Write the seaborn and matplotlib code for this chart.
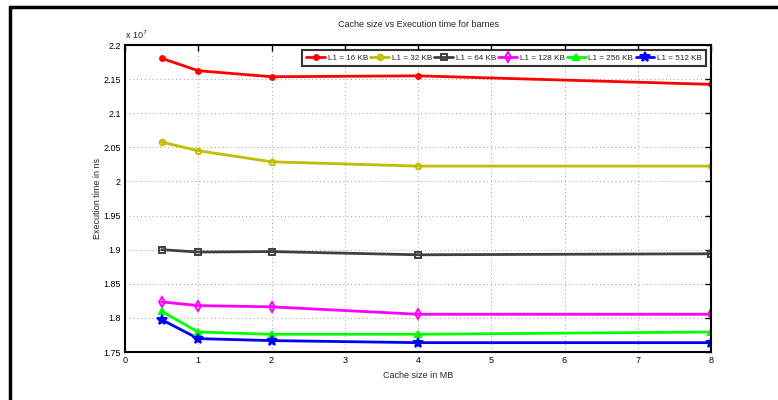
import numpy as np
import pandas as pd
import matplotlib
matplotlib.use("Agg")
import matplotlib.pyplot as plt
import seaborn as sns
from matplotlib.ticker import FuncFormatter
from matplotlib.lines import Line2D

# L2 cache sizes (MB)
cache_mb = [0.5, 1, 2, 4, 8]

# Execution time (ns) for each L1 size
l1_16kb = [2.1805e7, 2.1623e7, 2.1535e7, 2.1548e7, 2.1423e7]
l1_32kb = [2.0577e7, 2.0450e7, 2.0288e7, 2.0225e7, 2.0225e7]
l1_64kb = [1.9000e7, 1.8965e7, 1.8972e7, 1.8925e7, 1.8940e7]
l1_128kb = [1.8234e7, 1.8180e7, 1.8162e7, 1.8053e7, 1.8053e7]
l1_256kb = [1.8097e7, 1.7793e7, 1.7760e7, 1.7760e7, 1.7793e7]
l1_512kb = [1.7974e7, 1.7696e7, 1.7667e7, 1.7637e7, 1.7637e7]

series_names = ["L1 = 16 KB", "L1 = 32 KB", "L1 = 64 KB",
                "L1 = 128 KB", "L1 = 256 KB", "L1 = 512 KB"]
series_values = [l1_16kb, l1_32kb, l1_64kb, l1_128kb, l1_256kb, l1_512kb]

y_ticks = [1.75e7, 1.8e7, 1.85e7, 1.9e7, 1.95e7, 2.0e7, 2.05e7, 2.1e7, 2.15e7, 2.2e7]
x_ticks = [0, 1, 2, 3, 4, 5, 6, 7, 8]

df = pd.DataFrame({
    "cache": np.tile(cache_mb, len(series_names)),
    "time": np.concatenate(series_values),
    "series": np.repeat(series_names, len(cache_mb)),
})

colors = ["#FF0000", "#BFBF00", "#404040", "#FF00FF", "#00FF00", "#0000FF"]
markers = ["o", "o", "s", "d", "^", "*"]
msizes = [3.5, 4, 4, 5, 5, 7]
mfaces = ["#FF0000", "none", "none", "none", "#00FF00", "#0000FF"]

sns.set_style("white")
plt.rcParams["font.family"] = ["Liberation Sans Narrow", "Liberation Sans", "DejaVu Sans"]

fig = plt.figure(figsize=(7.78, 4.0), dpi=100)
ax = fig.add_axes([125 / 778, 1 - 352 / 400, (711 - 125) / 778, (352 - 45) / 400])

palette = dict(zip(series_names, colors))
sns.lineplot(data=df, x="cache", y="time", hue="series", palette=palette,
             linewidth=2, legend=False, ax=ax, sort=False)

# overlay markers per series with MATLAB-like styles
for name, vals, c, m, ms, mf in zip(series_names, series_values, colors, markers, msizes, mfaces):
    ax.plot(cache_mb, vals, linestyle="none", marker=m, markersize=ms,
            markerfacecolor=mf, markeredgecolor=c, markeredgewidth=1.4)

ax.set_xlim(0, 8)
ax.set_ylim(1.75e7, 2.2e7)
ax.set_xticks(x_ticks)
ax.set_yticks(y_ticks)
ax.yaxis.set_major_formatter(FuncFormatter(lambda v, p: f"{v / 1e7:g}"))

ax.grid(True, linestyle=(0, (1, 3)), color="#9a9a9a", linewidth=0.7)
ax.tick_params(direction="in", length=4, width=1, top=True, right=True,
               labelsize=6.5, colors="black", pad=3)
for s in ax.spines.values():
    s.set_visible(True)
    s.set_color("black")
    s.set_linewidth(1.5)

ax.set_xlabel("Cache size in MB", fontsize=6.5, labelpad=4)
ax.set_ylabel("Execution time in ns", fontsize=6.5, labelpad=1)
ax.set_title("Cache size vs Execution time for barnes", fontsize=6.5, pad=13)
ax.text(0.0, 1.012, r"x 10$^7$", transform=ax.transAxes, fontsize=6.5,
        ha="left", va="bottom")

handles = [Line2D([0], [0], color=c, linewidth=2, marker=m, markersize=ms,
                  markerfacecolor=mf, markeredgecolor=c, markeredgewidth=1.4)
           for c, m, ms, mf in zip(colors, markers, msizes, mfaces)]
leg = ax.legend(handles, series_names, ncol=6, loc="upper right",
                bbox_to_anchor=(0.992, 0.985), fontsize=5.9, frameon=True,
                fancybox=False, edgecolor="black", handlelength=2.3,
                handletextpad=0.3, columnspacing=0.3, borderpad=0.55,
                borderaxespad=0.0)
leg.get_frame().set_linewidth(1.5)

# figure frame lines along the top and left edges
fig.add_artist(Line2D([10 / 778, 1], [1 - 7 / 400, 1 - 7 / 400], color="black",
                      linewidth=2.5, transform=fig.transFigure))
fig.add_artist(Line2D([10 / 778, 10 / 778], [0, 1 - 7 / 400], color="black",
                      linewidth=2.5, transform=fig.transFigure))

fig.savefig("out.png", dpi=100, facecolor="white")
